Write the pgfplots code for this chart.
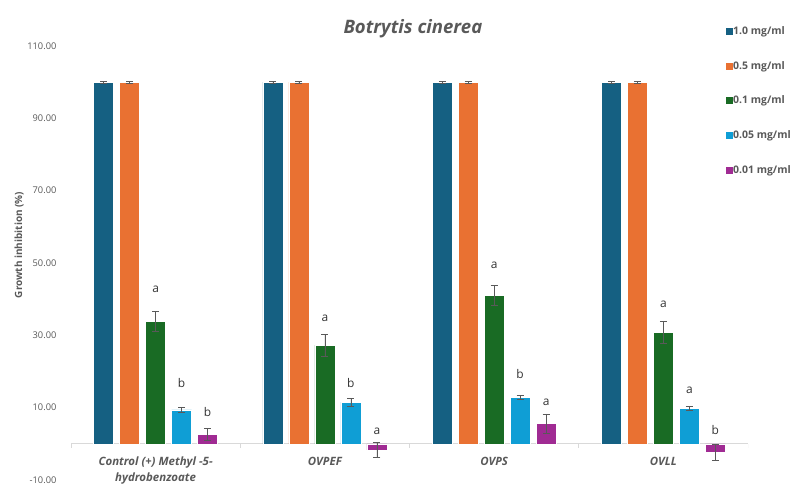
\documentclass[border=0pt]{standalone}
\usepackage{pgfplots}
\pgfplotsset{compat=1.18}
\usepackage{pgfplotstable}
\usepackage{fontspec}
\setmainfont{Open Sans}

\definecolor{c1}{HTML}{156082}
\definecolor{c2}{HTML}{E97132}
\definecolor{c3}{HTML}{196B24}
\definecolor{c4}{HTML}{0F9ED5}
\definecolor{c5}{HTML}{A02B93}
\definecolor{txt}{HTML}{595959}
\definecolor{axl}{HTML}{D9D9D9}

% growth inhibition (%) and standard error, one table per concentration
\pgfplotstableread{
x y e
0 100 0.2
1 100 0.2
2 100 0.2
3 100 0.2
}\tA
\pgfplotstableread{
x y e
0 100 0.2
1 100 0.2
2 100 0.2
3 100 0.2
}\tB
\pgfplotstableread{
x y e
0 33.9 2.8
1 27.3 3.0
2 41.1 2.7
3 30.8 3.0
}\tC
\pgfplotstableread{
x y e
0 9.4 0.8
1 11.5 1.0
2 12.9 0.6
3 9.8 0.6
}\tD
\pgfplotstableread{
x y e
0 2.6 1.6
1 -1.7 2.0
2 5.6 2.7
3 -2.3 2.3
}\tE

\pgfplotsset{
  sq legend/.style={legend image code/.code={\fill[##1,draw=none] (0bp,-3.5bp) rectangle (7bp,3.5bp);}},
}

\begin{document}
\begin{tikzpicture}
\path[use as bounding box] (0,0) rectangle (798bp,485bp);
\begin{axis}[
  at={(71bp,5bp)}, anchor=south west,
  scale only axis, width=677bp, height=434bp,
  xmin=-0.5, xmax=3.5, ymin=-10, ymax=110,
  axis x line=middle, axis y line=left,
  axis line style={-},
  x axis line style={axl, line width=0.8bp},
  y axis line style={draw=none},
  xtick={0,1,2,3},
  xticklabels={{Control (+) Methyl -5-\\hydrobenzoate},OVPEF,OVPS,OVLL},
  xticklabel style={align=center, anchor=north, text=txt, yshift=-5.5bp,
    font=\bfseries\itshape\fontsize{11.5}{16}\selectfont},
  xtick style={draw=none},
  ytick={-10,10,...,110},
  ytick style={draw=none},
  /pgf/number format/fixed, /pgf/number format/fixed zerofill,
  /pgf/number format/precision=2,
  /pgf/number format/assume math mode=true,
  yticklabel style={text=txt, xshift=-9bp, font=\fontsize{9.3}{11}\selectfont},
  ylabel={Growth inhibition (\%)},
  every axis y label/.style={at={(rel axis cs:-0.0768,0.5415)}, rotate=90,
    anchor=center, text=txt, font=\bfseries\fontsize{10}{12}\selectfont},
  title={Botrytis cinerea},
  every axis title/.style={at={(rel axis cs:0.505,1.041)}, anchor=center,
    text=txt, font=\bfseries\itshape\fontsize{18.6}{21}\selectfont},
  ybar=6bp, bar width=20bp,
  error bars/y dir=both, error bars/y explicit,
  error bars/error bar style={txt, line width=0.6bp},
  error bars/error mark options={rotate=90, txt, mark size=3.5bp, line width=0.6bp},
  legend style={at={(rel axis cs:0.9675,1.045)}, anchor=north west,
    draw=none, fill=none, inner sep=0pt, text=txt,
    font=\bfseries\fontsize{10.5}{12}\selectfont,
    row sep=25.25bp, nodes={inner sep=0pt},
    /tikz/every even column/.append style={column sep=4bp}},
  legend cell align=left,
]
\addplot[fill=c1, draw=white, line width=0.4bp, sq legend] table[x=x, y=y, y error=e] {\tA};
\addplot[fill=c2, draw=white, line width=0.4bp, sq legend] table[x=x, y=y, y error=e] {\tB};
\addplot[fill=c3, draw=white, line width=0.4bp, sq legend] table[x=x, y=y, y error=e] {\tC};
\addplot[fill=c4, draw=white, line width=0.4bp, sq legend] table[x=x, y=y, y error=e] {\tD};
\addplot[fill=c5, draw=white, line width=0.4bp, sq legend] table[x=x, y=y, y error=e] {\tE};
\legend{1.0 mg/ml, 0.5 mg/ml, 0.1 mg/ml, 0.05 mg/ml, 0.01 mg/ml}

% category separators on the zero line
\draw[axl, line width=0.8bp] (axis cs:-0.5,0) -- ([yshift=-4bp]axis cs:-0.5,0);
\draw[axl, line width=0.8bp] (axis cs:0.5,0) -- ([yshift=-4bp]axis cs:0.5,0);
\draw[axl, line width=0.8bp] (axis cs:1.5,0) -- ([yshift=-4bp]axis cs:1.5,0);
\draw[axl, line width=0.8bp] (axis cs:2.5,0) -- ([yshift=-4bp]axis cs:2.5,0);
\draw[axl, line width=0.8bp] (axis cs:3.5,0) -- ([yshift=-4bp]axis cs:3.5,0);

% significance letters
\begin{scope}[every node/.style={text=black!80, font=\fontsize{12}{14}\selectfont}]
\node at (axis cs:0,42.8) {a};
\node at (axis cs:0.1536,16.9) {b};
\node at (axis cs:0.3072,8.8) {b};
\node at (axis cs:1,34.8) {a};
\node at (axis cs:1.1536,16.7) {b};
\node at (axis cs:1.3072,3.5) {a};
\node at (axis cs:2,49.3) {a};
\node at (axis cs:2.1536,19.4) {b};
\node at (axis cs:2.3072,11.6) {a};
\node at (axis cs:3,38.5) {a};
\node at (axis cs:3.1536,14.8) {a};
\node at (axis cs:3.3072,3.7) {b};
\end{scope}
\end{axis}
\end{tikzpicture}
\end{document}
